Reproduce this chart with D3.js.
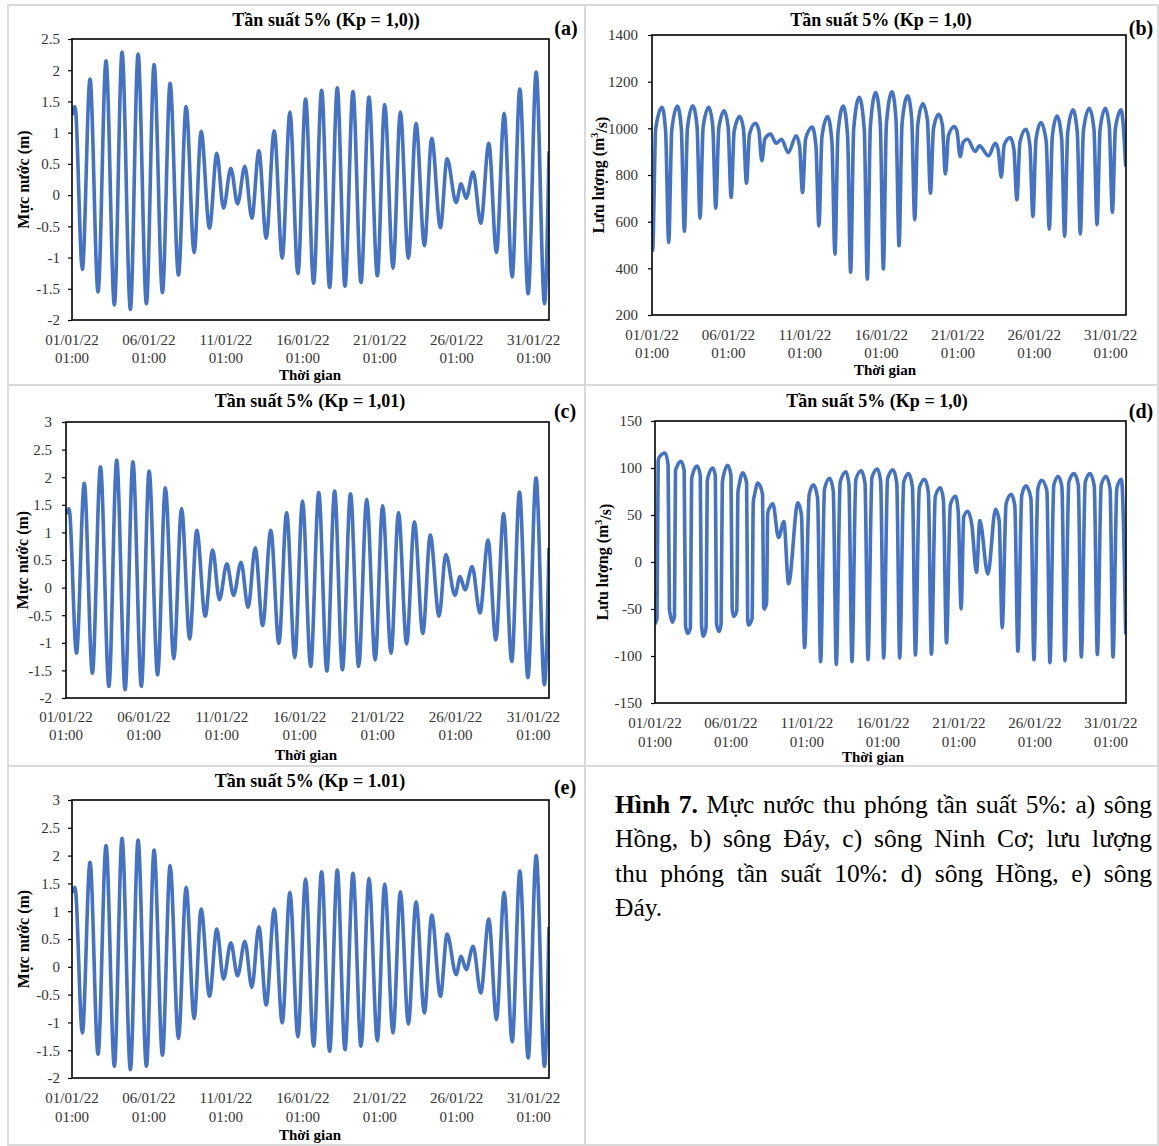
<!DOCTYPE html>
<html>
<head>
<meta charset="utf-8">
<script src="https://cdn.jsdelivr.net/npm/d3@7"></script>
<style>
  body { margin: 0; background: #fff; }
  svg { display: block; font-family: "Liberation Serif", "Times New Roman", serif; }
</style>
</head>
<body>
<svg id="fig" width="1159" height="1146"></svg>
<script>
// ---------- time axis ----------
const timeStart = "01/01/22 01:00";
const timeEnd = "01/02/22 01:00";
const timeTicks = ["01/01/22 01:00", "06/01/22 01:00", "11/01/22 01:00", "16/01/22 01:00",
                   "21/01/22 01:00", "26/01/22 01:00", "31/01/22 01:00"];

// ---------- value-axis ticks ----------
const levelTicksA = [-2, -1.5, -1, -0.5, 0, 0.5, 1, 1.5, 2, 2.5];
const levelTicksCE = [-2, -1.5, -1, -0.5, 0, 0.5, 1, 1.5, 2, 2.5, 3];
const flowTicksB = [200, 400, 600, 800, 1000, 1200, 1400];
const flowTicksD = [-150, -100, -50, 0, 50, 100, 150];

// ---------- water level (m): turning points, days after 01/01/22 01:00 ----------
const levelDays = [0, 0.195, 0.672, 1.171, 1.692, 2.212, 2.754, 3.253, 3.795, 4.294, 4.836,
  5.335, 5.877, 6.376, 6.918, 7.417, 7.938, 8.393, 8.935, 9.412, 9.846,
  10.323, 10.757, 11.234, 11.690, 12.145, 12.622, 13.143, 13.663, 14.162, 14.682,
  15.181, 15.702, 16.222, 16.743, 17.241, 17.740, 18.261, 18.781, 19.302, 19.844,
  20.321, 20.863, 21.340, 21.861, 22.360, 22.902, 23.379, 23.943, 24.377, 24.963,
  25.288, 25.614, 26.069, 26.568, 27.088, 27.586, 28.086, 28.606, 29.105, 29.647,
  30.167, 30.709, 31.0];

const levelA = [1.28, 1.42, -1.19, 1.86, -1.55, 2.15, -1.76, 2.29, -1.83, 2.26, -1.74,
  2.09, -1.56, 1.79, -1.28, 1.42, -0.92, 1.02, -0.53, 0.67, -0.21,
  0.43, -0.14, 0.46, -0.37, 0.71, -0.69, 1.03, -1.01, 1.33, -1.26,
  1.54, -1.41, 1.68, -1.48, 1.72, -1.46, 1.66, -1.40, 1.57, -1.29,
  1.45, -1.17, 1.33, -1.01, 1.15, -0.81, 0.91, -0.52, 0.58, -0.12,
  0.18, -0.05, 0.37, -0.45, 0.83, -0.92, 1.31, -1.31, 1.70, -1.58,
  1.97, -1.74, 0.70];

const levelC = [1.33, 1.43, -1.19, 1.89, -1.55, 2.19, -1.79, 2.31, -1.85, 2.28, -1.79,
  2.11, -1.58, 1.81, -1.29, 1.43, -0.93, 1.04, -0.52, 0.68, -0.22,
  0.43, -0.14, 0.46, -0.36, 0.72, -0.69, 1.04, -1.01, 1.36, -1.27,
  1.57, -1.43, 1.72, -1.51, 1.75, -1.49, 1.70, -1.43, 1.60, -1.31,
  1.48, -1.19, 1.36, -1.02, 1.19, -0.83, 0.95, -0.52, 0.60, -0.14,
  0.20, -0.04, 0.38, -0.46, 0.86, -0.95, 1.34, -1.34, 1.73, -1.63,
  1.99, -1.76, 0.72];

const levelE = [1.33, 1.43, -1.19, 1.88, -1.57, 2.18, -1.79, 2.31, -1.85, 2.28, -1.79,
  2.10, -1.59, 1.82, -1.29, 1.43, -0.93, 1.04, -0.53, 0.68, -0.22,
  0.43, -0.16, 0.46, -0.37, 0.72, -0.69, 1.04, -1.01, 1.34, -1.26,
  1.58, -1.43, 1.71, -1.52, 1.74, -1.49, 1.68, -1.43, 1.59, -1.33,
  1.49, -1.19, 1.35, -1.03, 1.17, -0.83, 0.93, -0.53, 0.59, -0.14,
  0.19, -0.05, 0.37, -0.47, 0.86, -0.95, 1.34, -1.35, 1.72, -1.64,
  2.00, -1.79, 0.72];

// ---------- discharge (m3/s), panel b ----------
const flowDaysB = [0, 0.04, 0.24, 0.655, 0.892, 1.092, 1.292, 1.659, 1.918, 2.118,
  2.318, 2.664, 2.944, 3.144, 3.344, 3.712, 3.970, 4.170, 4.370, 4.716,
  4.975, 5.175, 5.375, 5.742, 5.979, 6.179, 6.379, 6.769, 6.983, 7.183,
  7.383, 7.751, 8.122, 8.472, 8.908, 9.432, 9.647, 9.847, 10.047, 10.480,
  10.717, 10.917, 11.117, 11.485, 11.765, 11.965, 12.165, 12.511, 12.791, 12.991,
  13.191, 13.559, 13.883, 14.083, 14.283, 14.629, 14.931, 15.131, 15.331, 15.699,
  15.957, 16.157, 16.357, 16.725, 16.983, 17.183, 17.383, 17.707, 18.010, 18.210,
  18.410, 18.755, 18.992, 19.192, 19.392, 19.782, 19.953, 20.153, 20.353, 20.633,
  21.135, 21.419, 22.009, 22.445, 22.638, 22.838, 23.038, 23.428, 23.665, 23.865,
  24.065, 24.454, 24.713, 24.913, 25.113, 25.437, 25.783, 25.983, 26.183, 26.485,
  26.787, 26.987, 27.187, 27.533, 27.813, 28.013, 28.213, 28.603, 28.905, 29.105,
  29.305, 29.651, 29.909, 30.109, 30.309, 30.677, 30.983];

const flowB = [560, 477, 998, 1090, 986, 511, 991, 1096, 999, 558,
  1000, 1097, 1010, 615, 1005, 1090, 1012, 658, 1000, 1075,
  1008, 704, 988, 1050, 999, 765, 976, 1022, 993, 861,
  955, 975, 936, 953, 896, 968, 924, 725, 955, 1005,
  929, 582, 966, 1050, 944, 461, 982, 1096, 968, 383,
  998, 1133, 993, 354, 1009, 1153, 1017, 397, 1020, 1157,
  1038, 497, 1024, 1139, 1043, 608, 1016, 1105, 1036, 722,
  999, 1060, 1014, 805, 971, 1008, 985, 879, 940, 953,
  901, 925, 882, 936, 910, 791, 930, 960, 912, 694,
  942, 996, 929, 622, 952, 1025, 943, 568, 966, 1053,
  960, 537, 981, 1079, 983, 547, 989, 1086, 996, 587,
  996, 1086, 1006, 639, 1000, 1079, 836];

// ---------- discharge (m3/s), panel d ----------
const flowDaysD = [0, 0.13, 0.21, 0.30, 0.659, 0.86, 0.95, 1.02, 1.143,
  1.28, 1.35, 1.43, 1.714, 1.92, 2.01, 2.153,
  2.33, 2.41, 2.49, 2.769, 2.98, 3.06, 3.186,
  3.36, 3.44, 3.52, 3.801, 3.97, 4.05, 4.219,
  4.35, 4.43, 4.51, 4.790, 5.00, 5.08, 5.186,
  5.38, 5.46, 5.54, 5.779, 6.03, 6.10, 6.152,
  6.39, 6.47, 6.56, 6.768, 7.08, 7.15, 7.185,
  7.34, 7.42, 7.55, 7.757, 8.130, 8.482, 8.789, 9.404, 9.64, 9.844,
  10.15, 10.437, 10.70, 10.899, 11.16, 11.492, 11.73, 11.931,
  12.19, 12.569, 12.76, 12.964, 13.22, 13.579, 13.82, 14.019,
  14.28, 14.634, 14.85, 15.052, 15.31, 15.667, 15.91, 16.106,
  16.37, 16.700, 16.94, 17.139, 17.40, 17.754, 17.99, 18.194,
  18.45, 18.787, 18.98, 19.183, 19.44, 19.776, 19.95, 20.149,
  20.32, 20.589, 20.85, 21.160, 21.380, 21.907, 22.413, 22.65, 22.852,
  23.11, 23.445, 23.68, 23.885, 24.14, 24.412, 24.74, 24.940,
  25.20, 25.445, 25.79, 25.994, 26.25, 26.544, 26.78, 26.983,
  27.24, 27.576, 27.86, 28.060, 28.32, 28.631, 28.91, 29.115,
  29.37, 29.686, 29.95, 30.147, 30.40, 30.697, 30.982];

const flowD = [-66, -60, 108, 112, 116, 104, -50, -57, -64,
  -58, 97, 101, 107, 97, -68, -76,
  -70, 88, 94, 102, 92, -66, -79,
  -70, 86, 92, 100, 92, -66, -74,
  -66, 84, 92, 103, 92, -50, -58,
  -52, 74, 82, 95, 84, -62, -67,
  -60, 64, 72, 84, 72, -46, -50,
  -44, 52, 58, 62, 26, 43, -23, 63, 50, -91,
  72, 82, 68, -106, 78, 89, 76, -109,
  85, 96, 83, -106, 88, 97, 84, -104,
  90, 99, 86, -102, 89, 98, 84, -102,
  85, 94, 80, -99, 79, 88, 74, -98,
  70, 79, 66, -86, 61, 70, 55, -50,
  48, 54, 40, -11, 44, -13, 56, 44, -70,
  62, 72, 60, -95, 71, 81, 68, -104,
  78, 87, 76, -107, 82, 91, 80, -105,
  85, 94, 82, -101, 85, 94, 81, -98.5,
  82, 91, 78, -101, 79, 88, -77];

// ---------- caption ----------
const captionLines = [
  "Hình 7. Mực nước thu phóng tần suất 5%: a) sông",
  "Hồng, b) sông Đáy, c) sông Ninh Cơ; lưu lượng",
  "thu phóng tần suất 10%: d) sông Hồng, e) sông",
  "Đáy."
];

// ---------- drawing ----------
const LINE_COLOR = "#4472C4";
const parseTime = d3.timeParse("%d/%m/%y %H:%M");
const t0 = parseTime(timeStart);
const t1 = parseTime(timeEnd);
const DAY_MS = 864e5;
const toDate = d => new Date(t0.getTime() + d * DAY_MS);
const fmtDate = d3.timeFormat("%d/%m/%y");
const fmtHour = d3.timeFormat("%H:%M");

const svg = d3.select("#fig");

// table grid behind the five panels
const grid = svg.append("g").attr("fill", "none").attr("stroke", "#dadada").attr("stroke-width", 2);
grid.append("rect").attr("x", 8).attr("y", 5).attr("width", 1150).attr("height", 1140);
grid.append("line").attr("x1", 585).attr("y1", 5).attr("x2", 585).attr("y2", 1146);
grid.append("line").attr("x1", 8).attr("y1", 385).attr("x2", 1158).attr("y2", 385);
grid.append("line").attr("x1", 8).attr("y1", 766).attr("x2", 1158).attr("y2", 766);

const panels = [
  { key: "a", box: [72, 39, 549, 320], yDomain: [-2, 2.5], yTicks: levelTicksA,
    days: levelDays, values: levelA, title: "Tần suất 5% (Kp = 1,0))", titlePos: [326, 26],
    tag: "(a)", tagPos: [566, 35], yTitle: "level", yTitleX: 23, labelGap: 12,
    xLabelY: [345, 363], xTitlePos: [310, 380] },
  { key: "b", box: [652, 35, 1126, 315], yDomain: [200, 1400], yTicks: flowTicksB,
    days: flowDaysB, values: flowB, title: "Tần suất 5% (Kp = 1,0)", titlePos: [881, 26],
    tag: "(b)", tagPos: [1141, 35], yTitle: "flow", yTitleX: 598, labelGap: 14,
    xLabelY: [340, 358], xTitlePos: [885, 375] },
  { key: "c", box: [66, 422, 549, 698], yDomain: [-2, 3], yTicks: levelTicksCE,
    days: levelDays, values: levelC, title: "Tần suất 5% (Kp = 1,01)", titlePos: [310, 407],
    tag: "(c)", tagPos: [565, 418], yTitle: "level", yTitleX: 22, labelGap: 14,
    xLabelY: [722, 740], xTitlePos: [306, 760] },
  { key: "d", box: [655, 421, 1126, 703], yDomain: [-150, 150], yTicks: flowTicksD,
    days: flowDaysD, values: flowD, title: "Tần suất 5% (Kp = 1,0)", titlePos: [877, 407],
    tag: "(d)", tagPos: [1141, 418], yTitle: "flow", yTitleX: 602, labelGap: 13,
    xLabelY: [728, 747], xTitlePos: [873, 762] },
  { key: "e", box: [72, 800, 549, 1078], yDomain: [-2, 3], yTicks: levelTicksCE,
    days: levelDays, values: levelE, title: "Tần suất 5% (Kp = 1.01)", titlePos: [310, 787],
    tag: "(e)", tagPos: [565, 794], yTitle: "level", yTitleX: 23, labelGap: 12,
    xLabelY: [1103, 1122], xTitlePos: [310, 1140] }
];

panels.forEach(p => {
  const [x0, y0, x1, y1] = p.box;
  const g = svg.append("g").attr("class", "panel-" + p.key);

  const x = d3.scaleTime().domain([t0, t1]).range([x0, x1]);
  const y = d3.scaleLinear().domain(p.yDomain).range([y1, y0]);

  // clip for the series
  const clipId = "clip-" + p.key;
  svg.append("clipPath").attr("id", clipId)
    .append("rect").attr("x", x0).attr("y", y0).attr("width", x1 - x0).attr("height", y1 - y0);

  // series line
  const pts = p.days.map((d, i) => ({ t: toDate(d), v: p.values[i] }));
  const line = d3.line().x(d => x(d.t)).y(d => y(d.v)).curve(d3.curveMonotoneX);
  g.append("path")
    .datum(pts)
    .attr("clip-path", "url(#" + clipId + ")")
    .attr("fill", "none")
    .attr("stroke", LINE_COLOR)
    .attr("stroke-width", 3.6)
    .attr("stroke-linejoin", "round")
    .attr("d", line);

  // plot frame
  g.append("rect")
    .attr("x", x0).attr("y", y0).attr("width", x1 - x0).attr("height", y1 - y0)
    .attr("fill", "none").attr("stroke", "#000").attr("stroke-width", 1.6);

  // value axis
  const yAxis = d3.axisLeft(y)
    .tickValues(p.yTicks)
    .tickFormat(v => String(v))
    .tickSizeInner(4).tickSizeOuter(0)
    .tickPadding(p.labelGap - 4);
  const ya = g.append("g").attr("transform", `translate(${x0},0)`).call(yAxis);
  ya.select(".domain").remove();
  ya.selectAll(".tick line").attr("stroke", "#000").attr("stroke-width", 1.2);
  ya.selectAll(".tick text")
    .attr("font-family", "Liberation Serif, serif")
    .attr("font-size", 15)
    .attr("fill", "#333");

  // time axis labels (two lines each)
  const tickDates = timeTicks.map(parseTime);
  const xl = g.append("g")
    .attr("font-size", 15).attr("fill", "#333").attr("text-anchor", "middle");
  tickDates.forEach(td => {
    const t = xl.append("text").attr("x", x(td));
    t.append("tspan").attr("x", x(td)).attr("y", p.xLabelY[0]).text(fmtDate(td));
    t.append("tspan").attr("x", x(td)).attr("y", p.xLabelY[1]).text(fmtHour(td));
  });

  // axis titles
  g.append("text")
    .attr("x", p.xTitlePos[0]).attr("y", p.xTitlePos[1])
    .attr("text-anchor", "middle").attr("font-weight", "bold").attr("font-size", 15)
    .text("Thời gian");

  const yt = g.append("text")
    .attr("transform", `translate(${p.yTitleX},${(y0 + y1) / 2}) rotate(-90)`)
    .attr("text-anchor", "middle").attr("dy", "0.35em")
    .attr("font-weight", "bold").attr("font-size", 16);
  if (p.yTitle === "level") {
    yt.text("Mực nước (m)");
  } else {
    yt.append("tspan").text("Lưu lượng (m");
    yt.append("tspan").attr("font-size", 10).attr("dy", "-0.6em").text("3");
    yt.append("tspan").attr("dy", "0.6em").text("/s)");
  }

  // panel title and tag
  g.append("text")
    .attr("x", p.titlePos[0]).attr("y", p.titlePos[1])
    .attr("text-anchor", "middle").attr("font-weight", "bold").attr("font-size", 18)
    .text(p.title);
  g.append("text")
    .attr("x", p.tagPos[0]).attr("y", p.tagPos[1])
    .attr("text-anchor", "middle").attr("font-weight", "bold").attr("font-size", 20)
    .text(p.tag);
});

// ---------- justified caption ----------
const CAP_LEFT = 615, CAP_RIGHT = 1152, CAP_TOP = 813, CAP_STEP = 34.3;
const cap = svg.append("g").attr("font-size", 25.5).attr("fill", "#000");
captionLines.forEach((lineText, li) => {
  const words = lineText.split(" ");
  const yPos = CAP_TOP + li * CAP_STEP;
  const nodes = words.map((w, wi) => {
    const bold = li === 0 && wi < 2;
    return cap.append("text")
      .attr("y", yPos)
      .attr("font-weight", bold ? "bold" : "normal")
      .text(w);
  });
  const widths = nodes.map(n => n.node().getComputedTextLength());
  const total = d3.sum(widths);
  const last = li === captionLines.length - 1;
  const gap = (last || words.length < 2) ? 6 : (CAP_RIGHT - CAP_LEFT - total) / (words.length - 1);
  let cx = CAP_LEFT;
  nodes.forEach((n, i) => {
    n.attr("x", cx);
    cx += widths[i] + gap;
  });
});
</script>
</body>
</html>
